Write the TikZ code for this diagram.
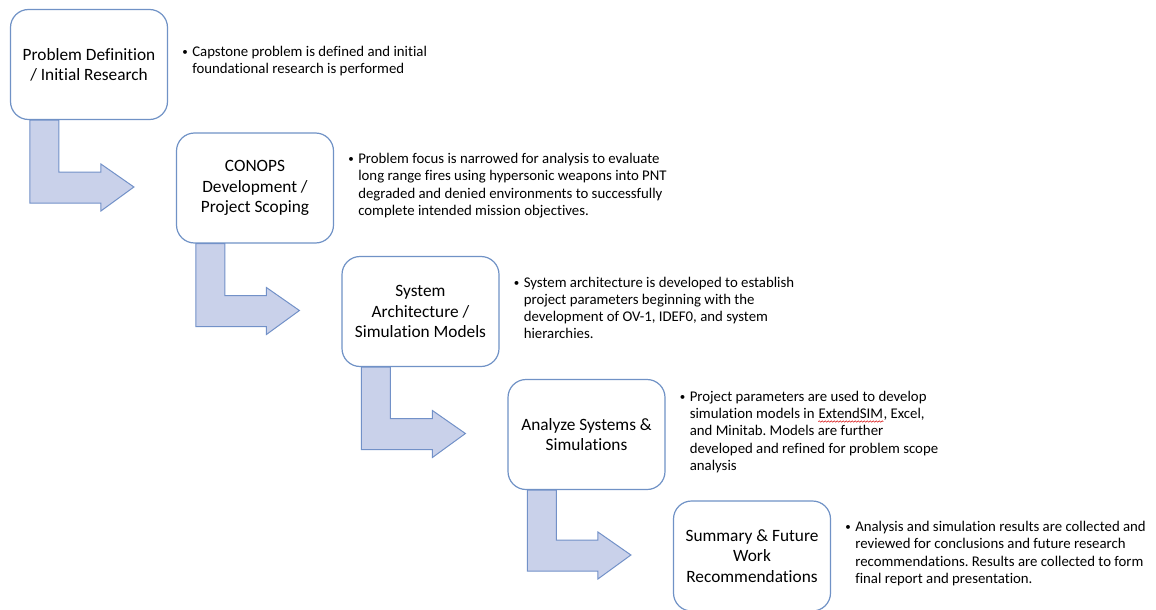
\documentclass[tikz,border=0pt]{standalone}
\usepackage{fontspec}
\setmainfont{Carlito}[Ligatures=NoCommon]
\usetikzlibrary{calc,decorations.pathmorphing}
\frenchspacing

\definecolor{boxline}{RGB}{112,146,198}
\definecolor{arrowfill}{RGB}{201,209,234}
\definecolor{arrowline}{RGB}{114,145,200}
\definecolor{squiggle}{RGB}{220,40,40}

\tikzset{
  phase/.style={draw=boxline, line width=1.2pt, rounded corners=18pt, fill=white,
    minimum width=157pt, minimum height=110pt, align=center,
    font=\fontsize{17.3}{20.2}\selectfont},
  note/.style={anchor=west, inner sep=0pt, font=\fontsize{14.8}{17.2}\selectfont},
  bendarrow/.style={draw=arrowline, fill=arrowfill, line width=1pt, line join=miter},
}

% bent block arrow from the bottom of one phase to the left of the next
\newcommand{\phasearrow}[2]{%
  \path[bendarrow] let \p1=(#1.south west), \p2=($(#2.west)+(-42,1)$) in
    (\x1+20,\y1) -- (\x1+20,\y2-16) -- (\x2-33,\y2-16) -- (\x2-33,\y2-24) -- (\x2,\y2)
    -- (\x2-33,\y2+23) -- (\x2-33,\y2+15) -- (\x1+49,\y2+15) -- (\x1+49,\y1) -- cycle;}
\newcommand{\bulletnote}[1]{\makebox[10pt][l]{\raisebox{1pt}{\fontsize{11}{11}\selectfont\textbullet}}\begin{tabular}[t]{@{}l@{}}#1\end{tabular}}
% red wavy underline as in the source
\newcommand{\spellmark}[1]{\tikz[baseline=(w.base)]{\node[inner sep=0pt] (w) {#1};
  \draw[squiggle, line width=0.6pt, decorate, decoration={snake, amplitude=0.7pt, segment length=3pt}]
    ([yshift=-2.5pt]w.south west) -- ([yshift=-2.5pt]w.south east);}}

\begin{document}
\begin{tikzpicture}[x=1pt,y=1pt]
    \useasboundingbox (0,0) rectangle (1156,-610);

    % phases
    \node[phase] (define)  at (89,-64.5)   {Problem Definition\\/ Initial Research};
    \node[phase] (conops)  at (255,-188)   {CONOPS\\Development /\\Project Scoping};
    \node[phase] (arch)    at (420.5,-311.5) {System\\Architecture /\\Simulation Models};
    \node[phase] (analyze) at (586.5,-434.5) {Analyze Systems \&\\Simulations};
    \node[phase] (summary) at (752,-556)   {Summary \& Future\\Work\\Recommendations};

    % arrows between phases
    \phasearrow{define}{conops}
    \phasearrow{conops}{arch}
    \phasearrow{arch}{analyze}
    \phasearrow{analyze}{summary}

    % notes
    \node[note] (define note) at ($(define.east)+(14,3)$)
        {\bulletnote{Capstone problem is defined and initial\\foundational research is performed}};
    \node[note] (conops note) at ($(conops.east)+(14,2)$)
        {\bulletnote{Problem focus is narrowed for analysis to evaluate\\long range fires using hypersonic weapons into PNT\\degraded and denied environments to successfully\\complete intended mission objectives.}};
    \node[note] (arch note) at ($(arch.east)+(14,2)$)
        {\bulletnote{System architecture is developed to establish\\project parameters beginning with the\\development of OV-1, IDEF0, and system\\hierarchies.}};
    \node[note] (analyze note) at ($(analyze.east)+(14,2)$)
        {\bulletnote{Project parameters are used to develop\\simulation models in \spellmark{ExtendSIM}, Excel,\\and Minitab. Models are further\\developed and refined for problem scope\\analysis}};
    \node[note] (summary note) at ($(summary.east)+(14,2)$)
        {\bulletnote{Analysis and simulation results are collected and\\reviewed for conclusions and future research\\recommendations. Results are collected to form\\final report and presentation.}};
\end{tikzpicture}
\end{document}
